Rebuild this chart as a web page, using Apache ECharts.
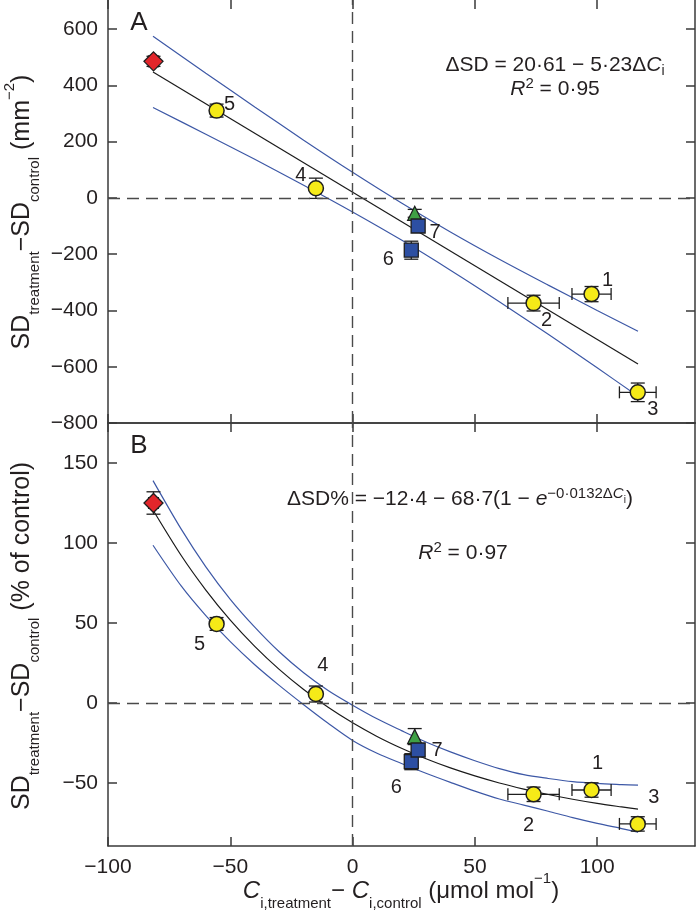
<!DOCTYPE html>
<html><head><meta charset="utf-8">
<script src="https://cdn.jsdelivr.net/npm/echarts@6/dist/echarts.min.js"></script>
<style>html,body{margin:0;padding:0;background:#fff}#c{width:696px;height:917px}</style>
</head><body><div id="c"></div>
<script>
// ---------- data ----------
const xTicks = [-100, -50, 0, 50, 100];
const yTicksA = [-800, -600, -400, -200, 0, 200, 400, 600];
const yTicksB = [-50, 0, 50, 100, 150];

// diamond
const diamondX = [-81.4];
const diamondXErr = [2];
const diamondA = [485];
const diamondAErr = [18];
const diamondB = [125];
const diamondBErr = [7];

// circles (treatments 1-5)
const circleIds = ['1', '2', '3', '4', '5'];
const circleX = [97.7, 74.0, 116.6, -15.0, -55.6];
const circleXErr = [8.0, 10.5, 7.5, 0, 0];
const circleA = [-342, -374, -691, 34, 310];
const circleAErr = [27, 28, 33, 36, 23];
const circleB = [-54.4, -57.1, -75.6, 5.6, 49.4];
const circleBErr = [4.5, 4.5, 4.5, 5, 4];

// squares (treatments 6-7)
const squareIds = ['6', '7'];
const squareX = [24.0, 26.8];
const squareA = [-186, -100];
const squareAErr = [32, 18];
const squareB = [-36.7, -29.4];
const squareBErr = [5, 4];

// triangle
const triX = [25.4];
const triA = [-55];
const triAErr = [14];
const triB = [-21];
const triBErr = [5];

// panel A regression line and confidence band
const fitXA = [-81.6, 116.7];
const fitA = [447, -590];
const bandXA = [-81.6, -60, -40, -20, 0, 20, 40, 60, 80, 100, 116.7];
const bandUpperA = [574, 443, 323, 205, 91, -18, -121, -218, -310, -400, -474];
const bandLowerA = [321, 226, 137, 45, -50, -150, -257, -369, -485, -604, -705];

// panel B fitted curve and confidence band
const curveXB = [-81.6, -70, -60, -50, -40, -30, -20, -10, 0, 10, 20, 30, 40, 50, 60, 70, 80, 90, 100, 110, 116.7];
const curveB = [120.6, 92.0, 70.6, 51.8, 35.4, 21.0, 8.4, -2.7, -12.4, -20.9, -28.3, -34.9, -40.6, -45.6, -50.0, -53.8, -57.2, -60.2, -62.8, -65.0, -66.4];
const bandUpperB = [139, 108.5, 85.1, 64.8, 47.4, 32.0, 18.9, 7.8, -1.4, -9.9, -17.3, -24.4, -30.6, -36.1, -41.0, -44.8, -47.2, -49.2, -50.3, -51.0, -51.4];
const bandLowerB = [98.6, 73.0, 54.6, 38.3, 23.9, 11.0, -1.1, -12.7, -23.4, -31.4, -37.8, -43.9, -49.6, -55.1, -60.0, -63.8, -67.7, -71.7, -75.3, -78.5, -80.7];

// ---------- styling ----------
const FONT = "'Liberation Sans', Arial, Helvetica, sans-serif";
const TXT = '#231f20', AXC = '#3a3a3a', EDGE = '#1e1e1e';
const YEL = '#f5ea18', RED = '#e2262b', GRN = '#3fa045', BLU = '#2d4fa2', LBLUE = '#3d58a6';
const labelOffA = {'1':[16,-14],'2':[13,17],'3':[15,17],'4':[-15,-13],'5':[13,-6],'6':[-23,9],'7':[17,6]};
const labelOffB = {'1':[6,-27],'2':[-5,31],'3':[16,-26],'4':[7,-29],'5':[-17,21],'6':[-15,26],'7':[19,0]};

const fmt = v => v < 0 ? '\u2212' + Math.abs(v) : String(v);
const pts = (xs, ys) => xs.map((x, i) => [x, ys[i]]);

function xAx(gi, pos, showLab, showLine) {
  return {type:'value', gridIndex:gi, position:pos, min:-100, max:140,
    axisLine:{show:showLine, onZero:false, lineStyle:{color:AXC, width:1.5}},
    axisTick:{show:true, inside:true, length:9, customValues:xTicks, lineStyle:{color:AXC, width:1.5}},
    axisLabel:{show:showLab, customValues:xTicks, margin:11, color:TXT, fontSize:21, fontFamily:FONT, formatter:fmt},
    splitLine:{show:false}};
}
function yAx(gi, pos, showLab, mn, mx, ticks) {
  return {type:'value', gridIndex:gi, position:pos, min:mn, max:mx,
    axisLine:{show:true, onZero:false, lineStyle:{color:AXC, width:1.5}},
    axisTick:{show:true, inside:true, length:9, customValues:ticks, lineStyle:{color:AXC, width:1.5}},
    axisLabel:{show:showLab, customValues:ticks, margin:10, color:TXT, fontSize:21, fontFamily:FONT, formatter:fmt},
    splitLine:{show:false}};
}

const CAPY = 7, CAPX = 6;
function renderErr(params, api) {
  const x = api.value(0), y = api.value(1), xe = api.value(2), ye = api.value(3);
  const c = api.coord([x, y]);
  const st = {stroke: EDGE, lineWidth: 1.3, fill: null};
  const ch = [];
  if (ye > 0) {
    const t = api.coord([x, y + ye])[1], b = api.coord([x, y - ye])[1];
    ch.push({type:'line', shape:{x1:c[0], y1:t, x2:c[0], y2:b}, style:st});
    ch.push({type:'line', shape:{x1:c[0]-CAPY, y1:t, x2:c[0]+CAPY, y2:t}, style:st});
    ch.push({type:'line', shape:{x1:c[0]-CAPY, y1:b, x2:c[0]+CAPY, y2:b}, style:st});
  }
  if (xe > 0) {
    const l = api.coord([x - xe, y])[0], r = api.coord([x + xe, y])[0];
    ch.push({type:'line', shape:{x1:l, y1:c[1], x2:r, y2:c[1]}, style:st});
    ch.push({type:'line', shape:{x1:l, y1:c[1]-CAPX, x2:l, y2:c[1]+CAPX}, style:st});
    ch.push({type:'line', shape:{x1:r, y1:c[1]-CAPX, x2:r, y2:c[1]+CAPX}, style:st});
  }
  return {type:'group', children:ch};
}

function panelSeries(p) {
  const xi = p === 'A' ? 0 : 2, yi = xi;
  const offs = p === 'A' ? labelOffA : labelOffB;
  const cY = p === 'A' ? circleA : circleB, cE = p === 'A' ? circleAErr : circleBErr;
  const sY = p === 'A' ? squareA : squareB, sE = p === 'A' ? squareAErr : squareBErr;
  const tY = p === 'A' ? triA : triB, tE = p === 'A' ? triAErr : triBErr;
  const dY = p === 'A' ? diamondA : diamondB, dE = p === 'A' ? diamondAErr : diamondBErr;
  const fitData = p === 'A' ? pts(fitXA, fitA) : pts(curveXB, curveB);
  const upData = p === 'A' ? pts(bandXA, bandUpperA) : pts(curveXB, bandUpperB);
  const loData = p === 'A' ? pts(bandXA, bandLowerA) : pts(curveXB, bandLowerB);
  const lineBase = {type:'line', xAxisIndex:xi, yAxisIndex:yi, showSymbol:false, symbol:'none', silent:true, z:2,
    smooth:0.3};
  const errData = [];
  diamondX.forEach((x,i)=>errData.push([x, dY[i], diamondXErr[i], dE[i]]));
  circleX.forEach((x,i)=>errData.push([x, cY[i], circleXErr[i], cE[i]]));
  squareX.forEach((x,i)=>errData.push([x, sY[i], 0, sE[i]]));
  triX.forEach((x,i)=>errData.push([x, tY[i], 0, tE[i]]));
  const lab = {show:true, position:'inside', formatter:'{b}', color:TXT, fontSize:20, fontFamily:FONT};
  return [
    Object.assign({}, lineBase, {data:upData, lineStyle:{color:LBLUE, width:1.2},
      markLine:{symbol:['none','none'], silent:true, label:{show:false},
        lineStyle:{type:[12,7], color:'#4a4a4a', width:1.4}, data:[{xAxis:0},{yAxis:0}]}}),
    Object.assign({}, lineBase, {data:loData, lineStyle:{color:LBLUE, width:1.2}}),
    Object.assign({}, lineBase, {data:fitData, lineStyle:{color:'#1a1a1a', width:1.2}}),
    {type:'custom', xAxisIndex:xi, yAxisIndex:yi, z:3, silent:true, renderItem:renderErr,
      encode:{x:0, y:1}, data:errData},
    {type:'scatter', xAxisIndex:xi, yAxisIndex:yi, z:5, symbol:'diamond', symbolSize:19,
      itemStyle:{color:RED, borderColor:EDGE, borderWidth:1.3, opacity:1},
      data:pts(diamondX, dY)},
    {type:'scatter', xAxisIndex:xi, yAxisIndex:yi, z:5, symbol:'triangle', symbolSize:14,
      itemStyle:{color:GRN, borderColor:EDGE, borderWidth:1.3, opacity:1},
      data:pts(triX, tY)},
    {type:'scatter', xAxisIndex:xi, yAxisIndex:yi, z:5, symbol:'rect', symbolSize:14,
      itemStyle:{color:BLU, borderColor:EDGE, borderWidth:1.3, opacity:1}, label:lab,
      data:squareIds.map((id,i)=>({name:id, value:[squareX[i], sY[i]], label:{offset:offs[id]}}))},
    {type:'scatter', xAxisIndex:xi, yAxisIndex:yi, z:5, symbol:'circle', symbolSize:15,
      itemStyle:{color:YEL, borderColor:EDGE, borderWidth:1.5, opacity:1}, label:lab,
      data:circleIds.map((id,i)=>({name:id, value:[circleX[i], cY[i]], label:{offset:offs[id]}}))}
  ];
}

const R = {
  m:{fontSize:25, fontFamily:FONT, fill:TXT, lineHeight:40},
  s:{fontSize:15, fontFamily:FONT, fill:TXT, lineHeight:15, verticalAlign:'bottom'},
  p:{fontSize:15, fontFamily:FONT, fill:TXT, lineHeight:15, verticalAlign:'top'}
};
const RX = {
  m:{fontSize:24, fontFamily:FONT, fill:TXT, lineHeight:40},
  c:{fontSize:24, fontFamily:FONT, fontStyle:'italic', fill:TXT, lineHeight:40},
  s:{fontSize:15, fontFamily:FONT, fill:TXT, lineHeight:15, verticalAlign:'bottom'},
  p:{fontSize:15, fontFamily:FONT, fill:TXT, lineHeight:15, verticalAlign:'top'}
};
const RE = {
  m:{fontSize:21, fontFamily:FONT, fill:TXT, lineHeight:26},
  it:{fontSize:21, fontFamily:FONT, fontStyle:'italic', fill:TXT, lineHeight:26},
  s:{fontSize:14, fontFamily:FONT, fill:TXT, lineHeight:14, verticalAlign:'bottom'},
  p:{fontSize:15, fontFamily:FONT, fill:TXT, lineHeight:15, verticalAlign:'top'},
  pit:{fontSize:15, fontFamily:FONT, fontStyle:'italic', fill:TXT, lineHeight:15, verticalAlign:'top'},
  ps:{fontSize:10, fontFamily:FONT, fill:TXT, lineHeight:10, verticalAlign:'top', padding:[9,0,0,0]}
};

const option = {
  animation:false,
  backgroundColor:'#ffffff',
  grid:[{left:108, top:0, width:587, height:423}, {left:108, top:423, width:587, height:423}],
  xAxis:[xAx(0,'bottom',false,true), xAx(0,'top',false,false), xAx(1,'bottom',true,true), xAx(1,'top',false,true)],
  yAxis:[yAx(0,'left',true,-800,703,yTicksA), yAx(0,'right',false,-800,703,yTicksA),
         yAx(1,'left',true,-89.4,175,yTicksB), yAx(1,'right',false,-89.4,175,yTicksB)],
  series:[...panelSeries('A'), ...panelSeries('B')],
  graphic:[
    {type:'text', x:139, y:23, z:10, style:{text:'A', fontSize:26, fontFamily:FONT, fill:TXT, align:'center', verticalAlign:'middle'}},
    {type:'text', x:139, y:446, z:10, style:{text:'B', fontSize:26, fontFamily:FONT, fill:TXT, align:'center', verticalAlign:'middle'}},
    {type:'text', x:555, y:65, z:10, style:{text:'{m|\u0394SD = 20\u00b761 \u2212 5\u00b723\u0394}{it|C}{s|i}', rich:RE, align:'center', verticalAlign:'middle'}},
    {type:'text', x:555, y:89, z:10, style:{text:'{it|R}{p|2}{m| = 0\u00b795}', rich:RE, align:'center', verticalAlign:'middle'}},
    {type:'text', x:287, y:499, z:10, style:{text:'{m|\u0394SD% = \u221212\u00b74 \u2212 68\u00b77(1 \u2212 }{it|e}{p|\u22120\u00b70132\u0394}{pit|C}{ps|i}{m|)}', rich:RE, align:'left', verticalAlign:'middle'}},
    {type:'text', x:463, y:553, z:10, style:{text:'{it|R}{p|2}{m| = 0\u00b797}', rich:RE, align:'center', verticalAlign:'middle'}},
    {type:'text', x:22, y:212, rotation:Math.PI/2, z:10, style:{text:'{m|SD}{s|treatment}{m|\u2212SD}{s|control}{m| (mm}{p|\u22122}{m|)}', rich:R, align:'center', verticalAlign:'middle'}},
    {type:'text', x:22, y:636, rotation:Math.PI/2, z:10, style:{text:'{m|SD}{s|treatment}{m|\u2212SD}{s|control}{m| (% of control)}', rich:R, align:'center', verticalAlign:'middle'}},
    {type:'text', x:401, y:891, z:10, style:{text:'{c|C}{s|i,treatment}{m|\u2212 }{c|C}{s|i,control}{m| (\u03bcmol mol}{p|\u22121}{m|)}', rich:RX, align:'center', verticalAlign:'middle'}}
  ]
};
const chart = echarts.init(document.getElementById('c'), null, {renderer:'canvas'});
chart.setOption(option);
</script></body></html>
